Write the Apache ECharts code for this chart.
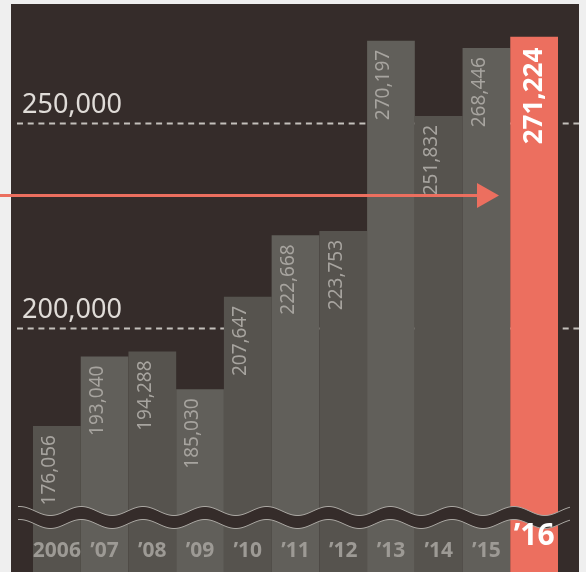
<!DOCTYPE html>
<html>
<head>
    <meta charset="utf-8">
    <script src="https://cdn.jsdelivr.net/npm/echarts@6/dist/echarts.min.js"></script>
</head>
<style>
    *{
        margin:0;
        padding:0;
    }
    body{
        background:#efefef;
    }
</style>
<body>
<div id="main" style="width:586px;height:572px;"></div>
<script type="text/javascript">
    // data
    var years = ['2006', '\u201907', '\u201908', '\u201909', '\u201910', '\u201911', '\u201912', '\u201913', '\u201914', '\u201915', '\u201916'];
    var totals = [176056, 193040, 194288, 185030, 207647, 222668, 223753, 270197, 251832, 268446, 271224];
    var refValues = [250000, 200000];
    var refLabels = ['250,000', '200,000'];

    var PANEL = '#352c2a';
    var SALMON = '#ec6f5f';
    var FONT = '"Noto Sans", sans-serif';
    var last = totals.length - 1;

    function fmt(v) {
        return String(v).replace(/\B(?=(\d{3})+(?!\d))/g, ',');
    }

    var myChart = echarts.init(document.getElementById('main'));

    var barData = totals.map(function (v, i) {
        if (i === last) {
            return {
                value: v,
                itemStyle: {color: SALMON},
                label: {
                    color: '#ffffff',
                    fontSize: 26,
                    fontWeight: 'bold',
                    distance: 11,
                    offset: [0, 0]
                }
            };
        }
        return {value: v, itemStyle: {color: i % 2 === 0 ? '#56534e' : '#615f5a'}};
    });

    var xData = years.map(function (y, i) {
        if (i === last) {
            return {value: y, textStyle: {color: '#ffffff', fontSize: 30, fontWeight: 'bold'}};
        }
        return y;
    });

    var option = {
        backgroundColor: '#efefef',
        animation: false,
        grid: {
            left: 33,
            right: 28,
            top: 4,
            bottom: 0
        },
        xAxis: {
            type: 'category',
            data: xData,
            z: 10,
            axisLine: {show: false},
            axisTick: {show: false},
            axisLabel: {
                inside: true,
                margin: 21,
                verticalAlign: 'middle',
                color: '#9d9a95',
                fontSize: 21,
                fontWeight: 'bold',
                fontFamily: FONT,
                interval: 0
            }
        },
        yAxis: {
            type: 'value',
            min: 140400,
            max: 279200,
            show: false,
            splitLine: {show: false}
        },
        series: [{
            type: 'bar',
            data: barData,
            barCategoryGap: 0,
            z: 2,
            label: {
                show: true,
                position: 'insideTop',
                rotate: 90,
                align: 'right',
                verticalAlign: 'middle',
                distance: 9,
                offset: [0, -7],
                color: '#a7a49f',
                fontSize: 19,
                fontFamily: FONT,
                formatter: function (p) { return fmt(p.value); }
            }
        }]
    };

    myChart.setOption(option);

    // decorations: panel, reference lines, wavy axis break, arrow
    var graphics = [{
        type: 'rect',
        z: 0,
        shape: {x: 11, y: 4, width: 568, height: 568},
        style: {fill: PANEL},
        silent: true
    }];

    refValues.forEach(function (v, i) {
        var y = Math.round(myChart.convertToPixel({yAxisIndex: 0}, v)) + 0.5;
        graphics.push({
            type: 'line',
            z: 1,
            shape: {x1: 17, y1: y, x2: 579, y2: y},
            style: {stroke: '#c4c0bb', lineWidth: 2, lineDash: [6, 4.7]},
            silent: true
        });
        graphics.push({
            type: 'text',
            z: 1,
            x: 22,
            y: y - 18.5,
            style: {
                text: refLabels[i],
                fill: '#e0dcd8',
                font: '27px ' + FONT,
                textAlign: 'left',
                textVerticalAlign: 'middle'
            },
            silent: true
        });
    });

    var up = [], low = [];
    for (var x = 18; x <= 570; x += 1) {
        var yy = 511 + 4.5 * Math.cos(2 * Math.PI * (x - 50.4) / 61.8);
        up.push([x, yy]);
        low.push([x, yy + 13]);
    }
    graphics.push({
        type: 'polygon',
        z: 5,
        shape: {points: up.concat(low.slice().reverse())},
        style: {fill: PANEL},
        silent: true
    });
    graphics.push({
        type: 'polyline', z: 6, shape: {points: up},
        style: {stroke: '#aaa7a2', lineWidth: 1, fill: null}, silent: true
    });
    graphics.push({
        type: 'polyline', z: 6, shape: {points: low},
        style: {stroke: '#aaa7a2', lineWidth: 1, fill: null}, silent: true
    });

    graphics.push({
        type: 'line',
        z: 7,
        shape: {x1: 0, y1: 195.5, x2: 480, y2: 195.5},
        style: {stroke: SALMON, lineWidth: 3},
        silent: true
    });
    graphics.push({
        type: 'polygon',
        z: 7,
        shape: {points: [[477, 183], [499, 195.5], [477, 208]]},
        style: {fill: SALMON},
        silent: true
    });

    myChart.setOption({graphic: graphics});
</script>
</body>
</html>
